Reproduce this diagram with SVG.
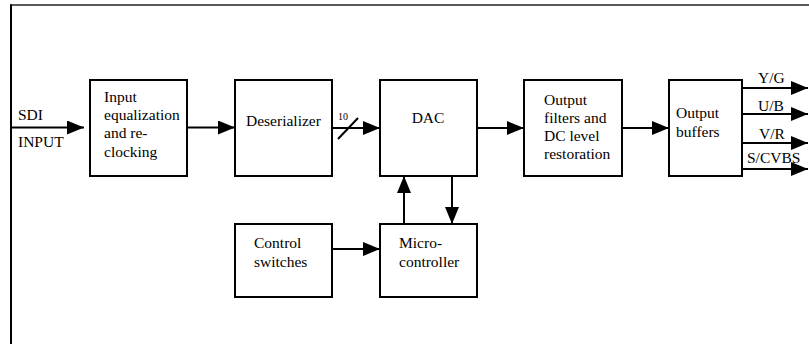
<svg xmlns="http://www.w3.org/2000/svg" width="809" height="344" viewBox="0 0 809 344">
<style>
.box{fill:#fff;stroke:#000;stroke-width:2}
.t{font-family:'Liberation Serif','DejaVu Serif',serif;font-size:15.5px;fill:#000}
.s{font-family:'Liberation Serif','DejaVu Serif',serif;font-size:10px;fill:#000}
.c{stroke:#000;stroke-width:2;fill:none}
</style>
<defs>
<marker id="ah" markerUnits="userSpaceOnUse" markerWidth="18" markerHeight="15" refX="17" refY="7" orient="auto">
<path d="M0,0 L17,7 L0,14 Z" fill="#000"/>
</marker>
</defs>
<rect width="809" height="344" fill="#fff"/>
<g id="frame">
<line x1="10" y1="5" x2="809" y2="5" stroke="#222" stroke-width="1.5"/>
<line x1="11" y1="4.5" x2="11" y2="344" stroke="#000" stroke-width="2"/>
</g>
<g id="connectors">
<line class="c" x1="11" y1="127.5" x2="84" y2="127.5" marker-end="url(#ah)"/>
<line class="c" x1="187" y1="127.5" x2="235" y2="127.5" marker-end="url(#ah)"/>
<line class="c" x1="332" y1="128" x2="380" y2="128" marker-end="url(#ah)"/>
<line class="c" x1="338" y1="139" x2="358" y2="118"/>
<line class="c" x1="477" y1="128" x2="524" y2="128" marker-end="url(#ah)"/>
<line class="c" x1="622" y1="128" x2="669" y2="128" marker-end="url(#ah)"/>
<line class="c" x1="404" y1="224" x2="404" y2="176" marker-end="url(#ah)"/>
<line class="c" x1="452" y1="176" x2="452" y2="224" marker-end="url(#ah)"/>
<line class="c" x1="332" y1="249" x2="380" y2="249" marker-end="url(#ah)"/>
<line class="c" x1="742" y1="88" x2="808" y2="88" marker-end="url(#ah)"/>
<line class="c" x1="742" y1="114" x2="808" y2="114" marker-end="url(#ah)"/>
<line class="c" x1="742" y1="143" x2="808" y2="143" marker-end="url(#ah)"/>
<line class="c" x1="742" y1="169" x2="808" y2="169" marker-end="url(#ah)"/>
<text class="t" x="18" y="120">SDI</text>
<text class="t" x="18" y="147">INPUT</text>
<text class="s" x="338" y="120">10</text>
<text class="t" x="758" y="83">Y/G</text>
<text class="t" x="758" y="111">U/B</text>
<text class="t" x="759" y="139">V/R</text>
<text class="t" x="747" y="163">S/CVBS</text>
</g>
<g id="input">
<rect class="box" x="90" y="80" width="97" height="96"/>
<text class="t" x="104" y="102">Input</text>
<text class="t" x="104" y="120">equalization</text>
<text class="t" x="104" y="138">and re-</text>
<text class="t" x="104" y="157">clocking</text>
</g>
<g id="deserializer">
<rect class="box" x="235" y="80" width="97" height="96"/>
<text class="t" x="246" y="126">Deserializer</text>
</g>
<g id="dac">
<rect class="box" x="380" y="80" width="97" height="96"/>
<text class="t" x="428" y="123" text-anchor="middle">DAC</text>
</g>
<g id="filters">
<rect class="box" x="524" y="80" width="98" height="96"/>
<text class="t" x="544" y="105">Output</text>
<text class="t" x="544" y="123">filters and</text>
<text class="t" x="544" y="141">DC level</text>
<text class="t" x="544" y="159">restoration</text>
</g>
<g id="buffers">
<rect class="box" x="669" y="80" width="73" height="96"/>
<text class="t" x="676" y="118">Output</text>
<text class="t" x="676" y="137">buffers</text>
</g>
<g id="control">
<rect class="box" x="235" y="224" width="97" height="73"/>
<text class="t" x="254" y="248">Control</text>
<text class="t" x="254" y="267">switches</text>
</g>
<g id="micro">
<rect class="box" x="380" y="224" width="97" height="73"/>
<text class="t" x="399" y="248">Micro-</text>
<text class="t" x="399" y="267">controller</text>
</g>
</svg>
